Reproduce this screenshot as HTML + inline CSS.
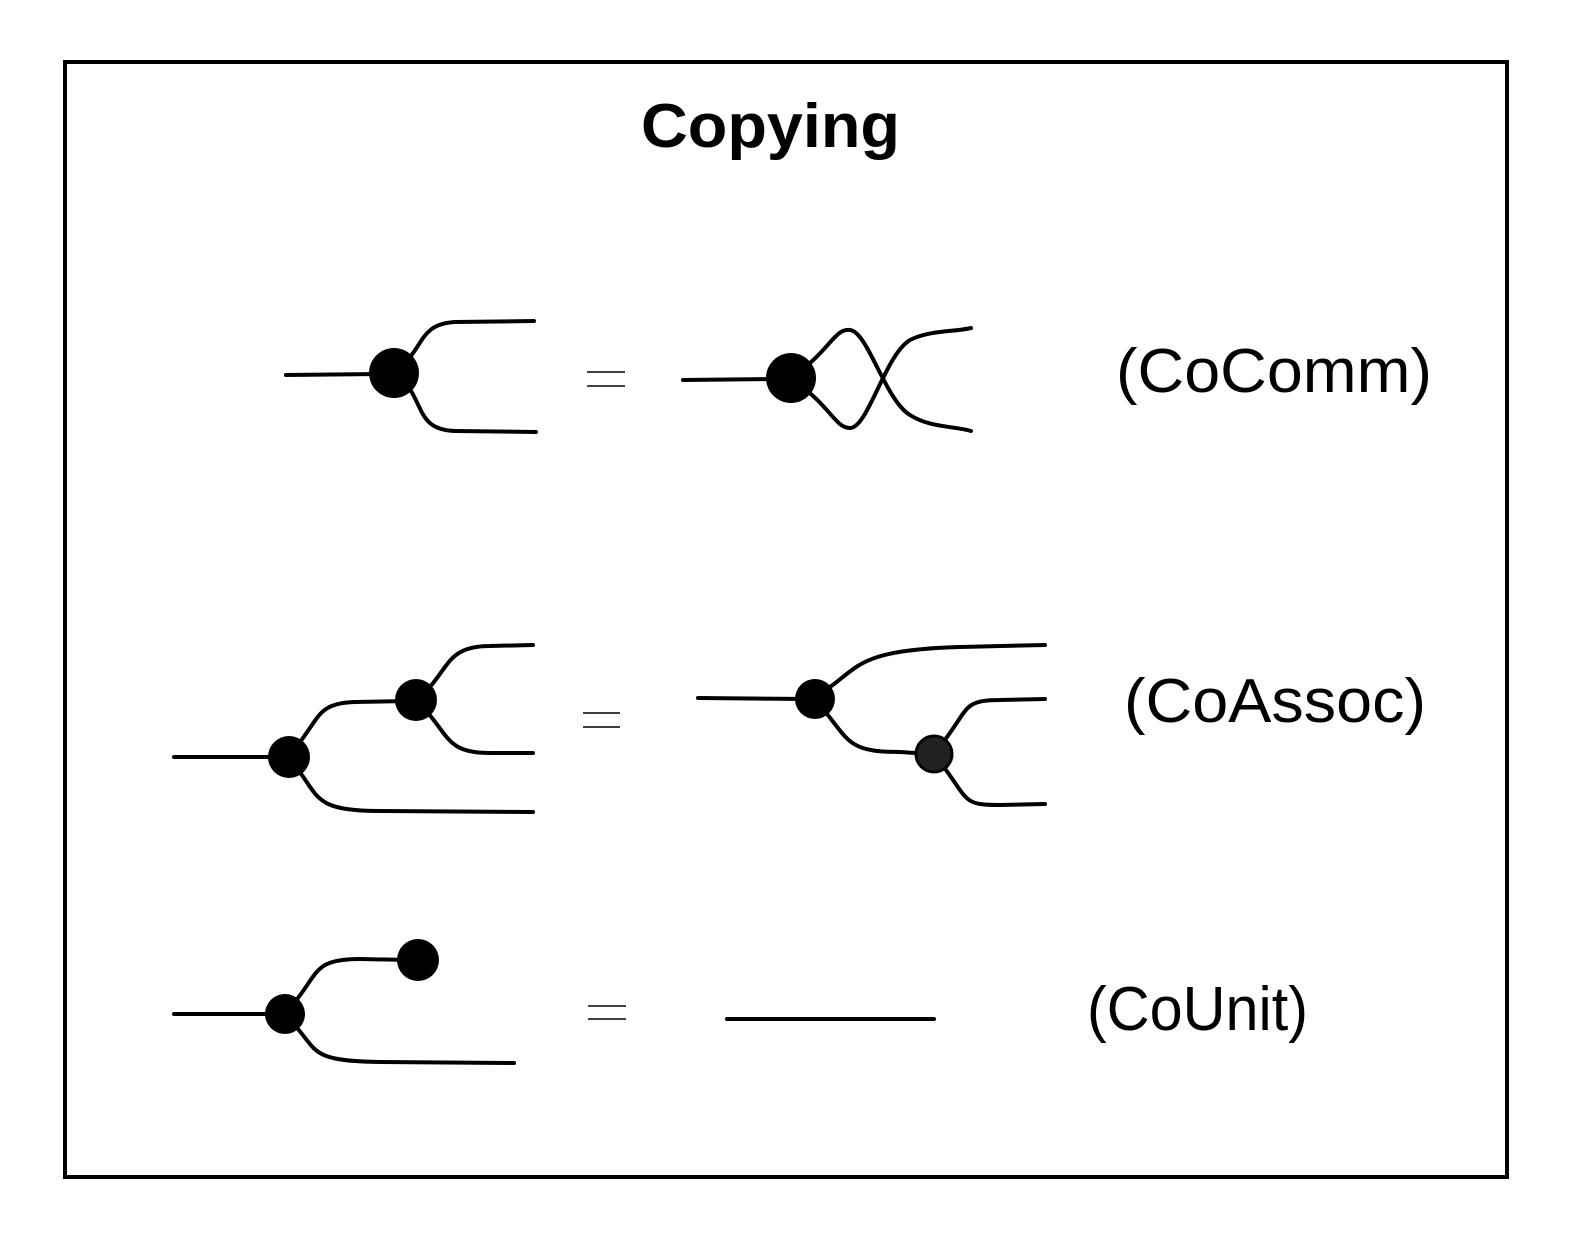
<!DOCTYPE html>
<html><head><meta charset="utf-8"><style>
html,body{margin:0;padding:0;background:#fff;}
svg{display:block;}
</style></head><body>
<svg width="1594" height="1255" viewBox="0 0 1594 1255" xmlns="http://www.w3.org/2000/svg">
<rect x="65" y="62" width="1442" height="1115" fill="none" stroke="#000" stroke-width="4"/>
<text x="641" y="147" font-family="Liberation Sans, sans-serif" font-weight="bold" font-size="62" textLength="259" lengthAdjust="spacingAndGlyphs">Copying</text>
<g fill="none" stroke="#000" stroke-width="4" stroke-linecap="round">
<path d="M286 375 L380 374"/>
<path d="M400 368 C425 345 420 324 455 322 L534 321"/>
<path d="M400 378 C425 400 415 430 455 431 L536 432"/>
<path d="M683 380 L780 379"/>
<path d="M795 375 C830 350 835 328 850 330 C868 332 885 400 910 415 C930 428 955 426 971 431"/>
<path d="M795 382 C830 405 835 428 850 428 C868 428 885 355 910 340 C930 330 955 332 971 328"/>
<path d="M174 757 L285 757"/>
<path d="M292 752 C320 720 315 703 355 702 L410 701"/>
<path d="M420 697 C450 670 445 646 490 646 L533 645"/>
<path d="M420 704 C450 735 445 753 490 753 L533 753"/>
<path d="M292 762 C320 795 310 811 380 811 L533 812"/>
<path d="M698 698 L810 699"/>
<path d="M818 695 C860 670 850 650 960 647 L1045 645"/>
<path d="M818 703 C850 740 845 752 900 752 L930 754"/>
<path d="M937 750 C970 710 960 700 1000 700 L1045 699"/>
<path d="M937 758 C970 800 960 805 1000 805 L1045 804"/>
<path d="M174 1014 L280 1014"/>
<path d="M288 1010 C320 975 310 959 360 959 L410 960"/>
<path d="M288 1018 C320 1050 305 1061 380 1062 L514 1063"/>
<path d="M727 1019 L934 1019"/>
</g>
<g fill="#000">
<circle cx="394" cy="373" r="25"/>
<circle cx="791" cy="378" r="25"/>
<circle cx="289" cy="757" r="21"/>
<circle cx="416" cy="700" r="21"/>
<circle cx="815" cy="699" r="20"/>
<circle cx="285" cy="1014" r="20"/>
<circle cx="418" cy="960" r="21"/>
</g>
<circle cx="934" cy="754" r="18" fill="#222" stroke="#000" stroke-width="3"/>
<g stroke="#000" stroke-width="1.5">
<line x1="587" y1="372" x2="625" y2="372"/><line x1="587" y1="386" x2="625" y2="386"/>
<line x1="583" y1="713" x2="620" y2="713"/><line x1="583" y1="727" x2="620" y2="727"/>
<line x1="588" y1="1006" x2="626" y2="1006"/><line x1="588" y1="1019" x2="626" y2="1019"/>
</g>
<g font-family="Liberation Sans, sans-serif" font-size="62">
<text x="1116" y="392" textLength="316" lengthAdjust="spacingAndGlyphs">(CoComm)</text>
<text x="1124" y="722" textLength="302" lengthAdjust="spacingAndGlyphs">(CoAssoc)</text>
<text x="1087" y="1030" textLength="221" lengthAdjust="spacingAndGlyphs">(CoUnit)</text>
</g>
</svg>
</body></html>
